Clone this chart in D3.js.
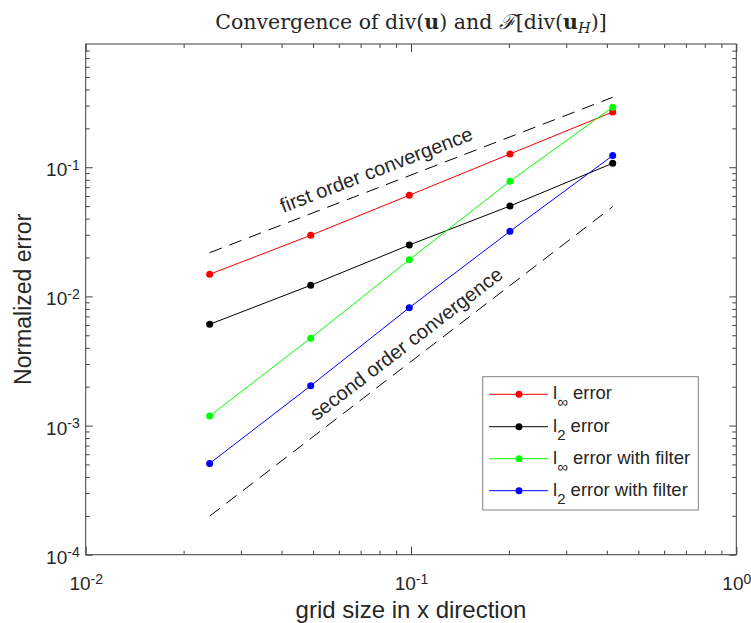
<!DOCTYPE html>
<html>
<head>
<meta charset="utf-8">
<script src="https://cdn.jsdelivr.net/npm/d3@7"></script>
<style>
  body { margin: 0; background: #fff; }
  text { font-family: "Liberation Sans", Arial, sans-serif; fill: #262626; }
</style>
</head>
<body>
<div id="divChart"></div>
<script>
// grid sizes and errors
var gridSize = [0.02405, 0.04917, 0.0988, 0.2015, 0.4169];
var linfErr = [0.01483, 0.0297, 0.0607, 0.1267, 0.268];
var l2Err = [0.00608, 0.01219, 0.025, 0.0501, 0.1074];
var linfFiltErr = [0.001186, 0.00475, 0.01923, 0.0779, 0.2917];
var l2FiltErr = [0.000509, 0.002033, 0.00817, 0.0319, 0.1231];

// reference slopes (end points)
var refX = [0.02405, 0.4169];
var firstOrderRef = [0.0218, 0.348];
var secondOrderRef = [0.000199, 0.0495];

var xTicks = [0.01, 0.1, 1];
var yTicks = [0.0001, 0.001, 0.01, 0.1];
var xDomain = [0.01, 1];
var yDomain = [0.0001, 0.9];

var seriesNames = ["linf", "l2", "linfFilt", "l2Filt"];
var seriesColors = ["#ff0000", "#000000", "#00ff00", "#0000ff"];

var ctx = {
	width: 751,
	height: 623,
	left: 85.7,
	top: 44,
	right: 736.3,
	bottom: 554.7,
};

var svg = d3
	.select("#divChart")
	.append("svg")
	.attr("width", ctx.width)
	.attr("height", ctx.height);

svg.append("rect").attr("width", ctx.width).attr("height", ctx.height).attr("fill", "white");

var xscale = d3.scaleLog().domain(xDomain).range([ctx.left, ctx.right]);
var yscale = d3.scaleLog().domain(yDomain).range([ctx.bottom, ctx.top]);

// minor ticks 2..9 per decade
function minorTicks(domain) {
	var out = [];
	for (var e = -5; e <= 1; e++) {
		for (var k = 2; k <= 9; k++) {
			var v = k * Math.pow(10, e);
			if (v > domain[0] * 1.0001 && v < domain[1] * 0.9999) out.push(v);
		}
	}
	return out;
}

var axisColor = "#404040";

function drawAxis(axis, tx, ty) {
	var g = svg.append("g").attr("transform", "translate(" + tx + "," + ty + ")").call(axis);
	g.select(".domain").remove();
	g.selectAll("line").attr("stroke", axisColor);
	return g;
}

function supLabel(sel) {
	sel.each(function (d) {
		var t = d3.select(this);
		t.text("");
		t.append("tspan").text("10");
		t.append("tspan")
			.attr("dy", "-0.45em")
			.style("font-size", "14px")
			.text(Math.round(Math.log10(d)));
	});
}

// bottom and top
var xMajor = d3.axisBottom(xscale).tickValues(xTicks).tickSizeInner(-8).tickSizeOuter(0).tickPadding(22);
var gx = drawAxis(xMajor, 0, ctx.bottom);
gx.selectAll("text").style("font-size", "19px").attr("fill", "#262626").call(supLabel);
drawAxis(d3.axisBottom(xscale).tickValues(minorTicks(xDomain)).tickFormat("").tickSizeInner(-4).tickSizeOuter(0), 0, ctx.bottom);
drawAxis(d3.axisTop(xscale).tickValues(xTicks).tickFormat("").tickSizeInner(-8).tickSizeOuter(0), 0, ctx.top);
drawAxis(d3.axisTop(xscale).tickValues(minorTicks(xDomain)).tickFormat("").tickSizeInner(-4).tickSizeOuter(0), 0, ctx.top);

// left and right
var yMajor = d3.axisLeft(yscale).tickValues(yTicks).tickSizeInner(-7).tickSizeOuter(0).tickPadding(6);
var gy = drawAxis(yMajor, ctx.left, 0);
gy.selectAll("text").style("font-size", "19px").attr("fill", "#262626").attr("dy", "0.45em").call(supLabel);
drawAxis(d3.axisLeft(yscale).tickValues(minorTicks(yDomain)).tickFormat("").tickSizeInner(-4).tickSizeOuter(0), ctx.left, 0);
drawAxis(d3.axisRight(yscale).tickValues(yTicks).tickFormat("").tickSizeInner(-7).tickSizeOuter(0), ctx.right, 0);
drawAxis(d3.axisRight(yscale).tickValues(minorTicks(yDomain)).tickFormat("").tickSizeInner(-4).tickSizeOuter(0), ctx.right, 0);

// box
svg.append("rect")
	.attr("x", ctx.left)
	.attr("y", ctx.top)
	.attr("width", ctx.right - ctx.left)
	.attr("height", ctx.bottom - ctx.top)
	.attr("fill", "none")
	.attr("stroke", axisColor)
	.attr("stroke-width", 1);

// reference lines
function refLine(vals) {
	svg.append("line")
		.attr("x1", xscale(refX[0]))
		.attr("y1", yscale(vals[0]))
		.attr("x2", xscale(refX[1]))
		.attr("y2", yscale(vals[1]))
		.attr("stroke", "black")
		.attr("stroke-width", 1)
		.attr("stroke-dasharray", "13,8");
}
refLine(firstOrderRef);
refLine(secondOrderRef);

function refAngle(vals) {
	var dx = xscale(refX[1]) - xscale(refX[0]);
	var dy = yscale(vals[1]) - yscale(vals[0]);
	return (Math.atan2(dy, dx) * 180) / Math.PI;
}

function refText(label, x, y, vals) {
	var px = xscale(x),
		py = yscale(y);
	svg.append("text")
		.attr("x", px)
		.attr("y", py)
		.attr("transform", "rotate(" + refAngle(vals) + "," + px + "," + py + ")")
		.style("font-size", "20px")
		.attr("fill", "#000")
		.text(label);
}
refText("first order convergence", 0.0405, 0.0443, firstOrderRef);
refText("second order convergence", 0.0512, 0.00108, secondOrderRef);

// data series
var allSeries = [linfErr, l2Err, linfFiltErr, l2FiltErr];
var line = d3
	.line()
	.x((d, i) => xscale(gridSize[i]))
	.y((d) => yscale(d));

for (let s = 0; s < allSeries.length; s++) {
	var g = svg.append("g").attr("id", "series_" + seriesNames[s]);
	g.append("path")
		.attr("d", line(allSeries[s]))
		.attr("fill", "none")
		.attr("stroke", seriesColors[s])
		.attr("stroke-width", 1);
	g.selectAll("circle")
		.data(allSeries[s])
		.join("circle")
		.attr("cx", (d, i) => xscale(gridSize[i]))
		.attr("cy", (d) => yscale(d))
		.attr("r", 3.5)
		.attr("fill", seriesColors[s]);
}

// legend
var legendLabels = [
	{ sub: "\u221e", rest: " error" },
	{ sub: "2", rest: " error" },
	{ sub: "\u221e", rest: " error with filter" },
	{ sub: "2", rest: " error with filter" },
];
var legendRowY = [394.3, 426.7, 458.7, 490.7];

var legend = svg.append("g").attr("id", "legend");
legend
	.append("rect")
	.attr("x", 482.7)
	.attr("y", 376.7)
	.attr("width", 215.6)
	.attr("height", 133.3)
	.attr("fill", "white")
	.attr("stroke", "#808080")
	.attr("stroke-width", 1);

for (let i = 0; i < legendLabels.length; i++) {
	var ly = legendRowY[i];
	legend.append("line")
		.attr("x1", 489)
		.attr("x2", 548)
		.attr("y1", ly)
		.attr("y2", ly)
		.attr("stroke", seriesColors[i])
		.attr("stroke-width", 1);
	legend.append("circle").attr("cx", 519).attr("cy", ly).attr("r", 3.5).attr("fill", seriesColors[i]);
	var t = legend
		.append("text")
		.attr("x", 553)
		.attr("y", ly + 5)
		.style("font-size", "18.5px")
		.attr("fill", "#111");
	t.append("tspan").text("l");
	t.append("tspan").attr("dy", 8).style("font-size", "15px").text(legendLabels[i].sub);
	t.append("tspan").attr("dy", -8).text(legendLabels[i].rest);
}

// axis labels
svg.append("text")
	.attr("x", (ctx.left + ctx.right) / 2)
	.attr("y", 618)
	.attr("text-anchor", "middle")
	.style("font-size", "24px")
	.text("grid size in x direction");

svg.append("text")
	.attr("transform", "translate(31," + (ctx.top + ctx.bottom) / 2 + ") rotate(-90)")
	.attr("text-anchor", "middle")
	.style("font-size", "23px")
	.text("Normalized error");

// title
var title = svg
	.append("text")
	.attr("x", (ctx.left + ctx.right) / 2)
	.attr("y", 29)
	.attr("text-anchor", "middle")
	.style("font-family", "'DejaVu Serif', 'Liberation Serif', serif")
	.style("font-size", "20.5px")
	.attr("fill", "#000");
title.append("tspan").text("Convergence of div(");
title.append("tspan").style("font-weight", "bold").text("u");
title.append("tspan").text(") and ");
title.append("tspan").style("font-style", "italic").text("\u2131");
title.append("tspan").text("[div(");
title.append("tspan").style("font-weight", "bold").text("u");
title.append("tspan").attr("dy", 4).style("font-size", "14.5px").style("font-style", "italic").text("H");
title.append("tspan").attr("dy", -4).text(")]");
</script>
</body>
</html>
